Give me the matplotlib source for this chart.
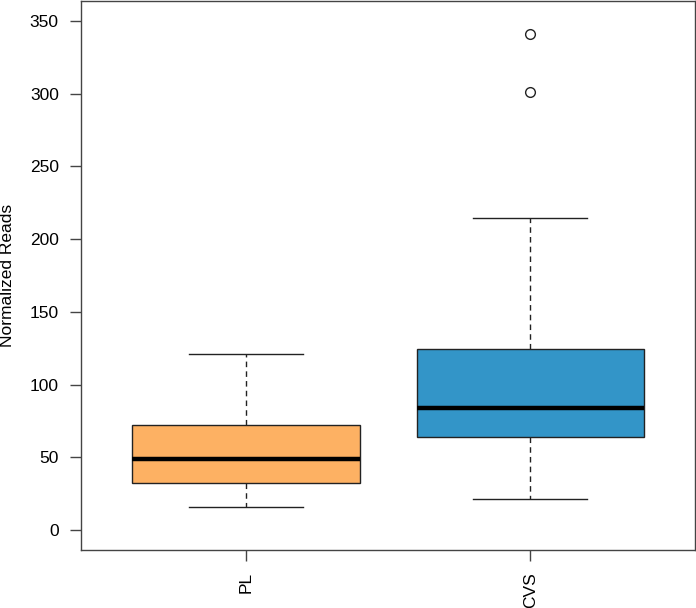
import matplotlib
matplotlib.use("Agg")
import matplotlib.pyplot as plt

# values (normalized reads)
groups = ["PL", "CVS"]
whisker_low = [15.6, 21.1]
q1 = [32.5, 64.1]
median = [48.8, 84.1]
q3 = [72.4, 124.4]
whisker_high = [121.2, 214.2]
outliers = [[], [301.0, 340.7]]
box_colors = ["#FDB163", "#3395C8"]

plt.rcParams["font.family"] = ["Liberation Sans", "DejaVu Sans"]

fig = plt.figure(figsize=(6.96, 6.08), dpi=100)
ax = fig.add_axes([81 / 696, 58 / 608, 614 / 696, 549 / 608])

stats = []
for i in range(len(groups)):
    stats.append({"label": groups[i], "whislo": whisker_low[i], "q1": q1[i], "med": median[i],
                  "q3": q3[i], "whishi": whisker_high[i], "fliers": outliers[i]})

bp = ax.bxp(stats, positions=[1, 2], widths=0.8, patch_artist=True, showfliers=True,
            boxprops=dict(linewidth=1, edgecolor="#222222"),
            medianprops=dict(color="black", linewidth=3.2, solid_capstyle="butt"),
            whiskerprops=dict(color="#222222", linewidth=1, linestyle=(0, (4, 3))),
            capprops=dict(color="#222222", linewidth=1),
            capwidths=0.4,
            flierprops=dict(marker="o", markersize=7, markerfacecolor="none",
                            markeredgecolor="#222222", markeredgewidth=1))
for patch, c in zip(bp["boxes"], box_colors):
    patch.set_facecolor(c)

ax.set_xlim(0.419, 2.58)
ax.set_ylim(-13.7, 363.6)
ax.set_yticks([0, 50, 100, 150, 200, 250, 300, 350])
ax.set_xticks([1, 2])
ax.set_xticklabels(groups, rotation=90)
ax.tick_params(axis="both", length=8, width=1, color="#444444", labelsize=12.5, pad=8)
for s in ax.spines.values():
    s.set_color("#444444")
    s.set_linewidth(1)

ax.set_ylabel("Normalized Reads", fontsize=12.5)
ax.yaxis.set_label_coords(-0.107, 0.5)

fig.savefig("out.png", dpi=100)
